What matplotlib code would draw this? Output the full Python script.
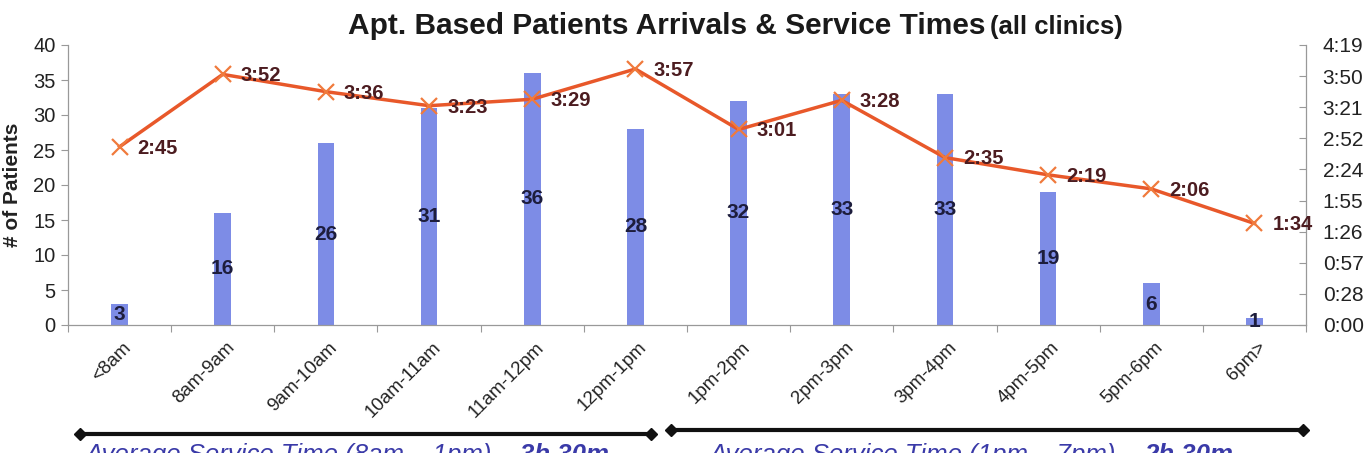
import matplotlib
matplotlib.use("Agg")
import matplotlib.pyplot as plt
from matplotlib import font_manager
from matplotlib.lines import Line2D
from matplotlib.transforms import ScaledTranslation
import numpy as np

# ---------------- data ----------------
categories = ["<8am", "8am-9am", "9am-10am", "10am-11am", "11am-12pm", "12pm-1pm",
              "1pm-2pm", "2pm-3pm", "3pm-4pm", "4pm-5pm", "5pm-6pm", "6pm>"]
patients = [3, 16, 26, 31, 36, 28, 32, 33, 33, 19, 6, 1]
service_times = ["2:45", "3:52", "3:36", "3:23", "3:29", "3:57",
                 "3:01", "3:28", "2:35", "2:19", "2:06", "1:34"]
right_ticks_days = [0.00, 0.02, 0.04, 0.06, 0.08, 0.10, 0.12, 0.14, 0.16, 0.18]
left_ticks = [0, 5, 10, 15, 20, 25, 30, 35, 40]
title_main = "Apt. Based Patients Arrivals & Service Times"
title_sub = "(all clinics)"
ylabel = "# of Patients"
note_left = ("Average Service Time (8am \u2013 1pm) \u2013 ", "3h 30m")
note_right = ("Average Service Time (1pm \u2013 7pm) \u2013 ", "2h 30m")

# ---------------- fonts ----------------
avail = {f.name for f in font_manager.fontManager.ttflist}
base_font = "Liberation Sans" if "Liberation Sans" in avail else "DejaVu Sans"
plt.rcParams["font.family"] = [base_font, "DejaVu Sans"]

def to_min(s):
    h, m = s.split(":")
    return int(h) * 60 + int(m)

def fmt_day(d):
    total = int(np.floor(d * 1440.0 + 1e-6))
    return f"{total // 60}:{total % 60:02d}"

minutes = [to_min(s) for s in service_times]

W, H = 1371, 453
fig = plt.figure(figsize=(W / 100, H / 100), dpi=100)

def fx(px):
    return px / W

def fy(py):
    return 1 - py / H

ax = fig.add_axes([fx(68), fy(325), fx(1306) - fx(68), fy(45) - fy(325)])
x = np.arange(len(categories))

bar_color = "#7d8ce6"
ax.bar(x, patients, width=0.16, color=bar_color, zorder=2)
ax.set_xlim(-0.5, len(categories) - 0.5)
ax.set_ylim(0, 40)
ax.set_yticks(left_ticks)
ax.tick_params(axis="y", labelsize=14.5, labelcolor="#222222", color="#999999",
               direction="out", length=5, width=0.8, pad=4)

ax.set_xticks(x)
ax.set_xticklabels(categories, rotation=45, ha="right", va="top",
                   rotation_mode="anchor", fontsize=13.5, color="#222222")
ax.tick_params(axis="x", which="major", length=0, pad=10)
ax.set_xticks(np.arange(-0.5, len(categories), 1.0), minor=True)
ax.tick_params(axis="x", which="minor", length=5, color="#999999",
               direction="out", width=0.8)
for lab in ax.get_xticklabels():
    lab.set_transform(lab.get_transform() + ScaledTranslation(3 / 100, 0, fig.dpi_scale_trans))

for s in ["top", "right"]:
    ax.spines[s].set_visible(False)
for s in ["left", "bottom"]:
    ax.spines[s].set_color("#999999")
    ax.spines[s].set_linewidth(0.9)

ax.set_ylabel(ylabel, fontsize=15, fontweight="bold", color="#222222", labelpad=8)

# bar labels
for xi, v in zip(x, patients):
    ax.text(xi, v / 2, str(v), ha="center", va="center", fontsize=15,
            fontweight="bold", color="#1d1d3c", zorder=4)

# right axis
ax2 = ax.twinx()
ax2.set_ylim(0, 0.18 * 1440)
ax2.set_yticks([d * 1440 for d in right_ticks_days])
ax2.set_yticklabels([fmt_day(d) for d in right_ticks_days])
ax2.tick_params(axis="y", labelsize=15, labelcolor="#222222", color="#999999",
                direction="in", length=5, width=0.8, pad=12)
for s in ["top", "left", "bottom"]:
    ax2.spines[s].set_visible(False)
ax2.spines["right"].set_color("#999999")
ax2.spines["right"].set_linewidth(0.9)

ax2.plot(x, minutes, color="#e8582a", linewidth=2.5, marker="x", markersize=11,
         markeredgewidth=1.6, markeredgecolor="#f07a3c", zorder=3)
for xi, m, s in zip(x, minutes, service_times):
    ax2.annotate(s, (xi, m), xytext=(13, -1), textcoords="offset points",
                 ha="left", va="center", fontsize=14.5, fontweight="bold",
                 color="#4c1c20", zorder=5)

# title
fig.text(fx(985), fy(34), title_main, ha="right", va="baseline", fontsize=21.5,
         fontweight="bold", color="#1a1a1a")
fig.text(fx(990), fy(34), title_sub, ha="left", va="baseline", fontsize=18.5,
         fontweight="bold", color="#1a1a1a")

# range arrows
for (x0, x1, yy) in [(80, 651, 434), (671, 1303, 430)]:
    fig.add_artist(Line2D([fx(x0), fx(x1)], [fy(yy), fy(yy)], color="#111111",
                          linewidth=3, marker="D", markersize=6,
                          markerfacecolor="#111111", transform=fig.transFigure))

fig.canvas.draw()
renderer = fig.canvas.get_renderer()
note_color = "#3a3aa8"
for (start, (txt, bold)) in [(85, note_left), (709, note_right)]:
    t1 = fig.text(fx(start), fy(443), txt, ha="left", va="top", fontsize=18.5,
                  style="italic", color=note_color)
    bb = t1.get_window_extent(renderer)
    fig.text(bb.x1 / W, fy(443), bold, ha="left", va="top", fontsize=18.5,
             style="italic", fontweight="bold", color=note_color)

fig.savefig("out.png", dpi=100)
